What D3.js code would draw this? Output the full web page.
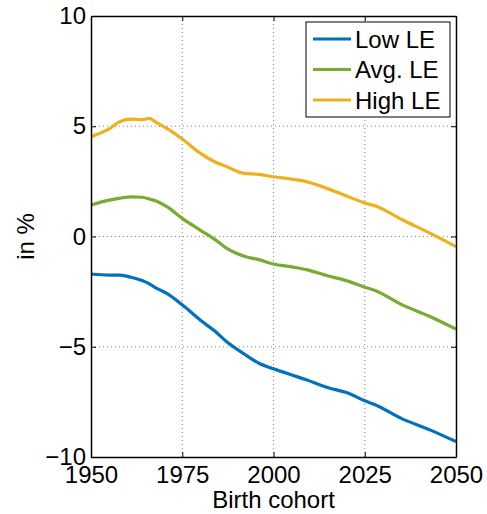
<!DOCTYPE html>
<html>
<head>
<meta charset="utf-8">
<script src="https://cdn.jsdelivr.net/npm/d3@7"></script>
<style>
  body { margin: 0; background: #fff; }
  svg text { font-family: "Liberation Sans", Arial, sans-serif; fill: #000; }
  .grid line { stroke: #888; stroke-dasharray: 1,3; }
</style>
</head>
<body>
<div id="chart"></div>
<script>
// birth cohorts and values (in %)
const years = [1950, 1955, 1958, 1961, 1964, 1966, 1968, 1971, 1975, 1980, 1984, 1987, 1992, 1996, 2000, 2005, 2009, 2015, 2020, 2025, 2028, 2035, 2043, 2050];
const lowLE  = [-1.7, -1.75, -1.75, -1.85, -2.0, -2.15, -2.35, -2.6, -3.1, -3.8, -4.3, -4.75, -5.33, -5.75, -6.0, -6.28, -6.5, -6.86, -7.08, -7.45, -7.64, -8.25, -8.78, -9.3];
const avgLE  = [1.43, 1.65, 1.74, 1.8, 1.78, 1.7, 1.6, 1.33, 0.82, 0.28, -0.14, -0.52, -0.9, -1.05, -1.25, -1.38, -1.5, -1.79, -2.0, -2.3, -2.46, -3.08, -3.64, -4.2];
const highLE = [4.53, 4.88, 5.22, 5.32, 5.3, 5.36, 5.16, 4.88, 4.42, 3.77, 3.38, 3.18, 2.86, 2.82, 2.71, 2.6, 2.49, 2.16, 1.84, 1.52, 1.38, 0.78, 0.14, -0.46];

const seriesNames = ["Low LE", "Avg. LE", "High LE"];
const seriesColors = ["#0072BD", "#77AC30", "#EDB120"];
const xTicks = [1950, 1975, 2000, 2025, 2050];
const yTicks = [-10, -5, 0, 5, 10];

const width = 487, height = 514;
const margin = {top: 16, right: 31, bottom: 57, left: 91};
const w = width - margin.left - margin.right;
const h = height - margin.top - margin.bottom;
const fontSize = "24px";

const svg = d3.select("#chart").append("svg")
    .attr("width", width)
    .attr("height", height);

const g = svg.append("g")
    .attr("transform", `translate(${margin.left},${margin.top})`);

const x = d3.scaleLinear().domain([1950, 2050]).range([0, w]);
const y = d3.scaleLinear().domain([-10, 10]).range([h, 0]);

// dotted grid
const grid = g.append("g").attr("class", "grid");
grid.selectAll(".gx")
  .data(xTicks.slice(1, -1))
  .enter().append("line")
  .attr("x1", d => x(d)).attr("x2", d => x(d))
  .attr("y1", 0).attr("y2", h);
grid.selectAll(".gy")
  .data(yTicks.slice(1, -1))
  .enter().append("line")
  .attr("x1", 0).attr("x2", w)
  .attr("y1", d => y(d)).attr("y2", d => y(d));

// lines
const series = [lowLE, avgLE, highLE];
const line = d3.line()
  .x((d, i) => x(years[i]))
  .y(d => y(d))
  .curve(d3.curveMonotoneX);

g.append("g").selectAll("path")
  .data(series)
  .enter().append("path")
  .attr("d", d => line(d))
  .attr("fill", "none")
  .attr("stroke", (d, i) => seriesColors[i])
  .attr("stroke-width", 3.2);

// axes, ticks inward on all four sides
const styleAxis = sel => {
  sel.select(".domain").attr("stroke", "#000").attr("stroke-width", 1.5);
  sel.selectAll(".tick line").attr("stroke", "#000");
  sel.selectAll(".tick text").style("font-size", fontSize);
};

g.append("g")
  .attr("transform", `translate(0,${h})`)
  .call(d3.axisBottom(x).tickValues(xTicks).tickFormat(d3.format("d")).tickSize(-5).tickSizeOuter(0).tickPadding(9))
  .call(styleAxis)
  .call(s => s.selectAll(".tick text").attr("dy", "0.71em"));

g.append("g")
  .call(d3.axisTop(x).tickValues(xTicks).tickSize(-5).tickSizeOuter(0).tickFormat(""))
  .call(styleAxis);

g.append("g")
  .call(d3.axisLeft(y).tickValues(yTicks).tickSize(-5).tickSizeOuter(0).tickPadding(5))
  .call(styleAxis);

g.append("g")
  .attr("transform", `translate(${w},0)`)
  .call(d3.axisRight(y).tickValues(yTicks).tickSize(-5).tickSizeOuter(0).tickFormat(""))
  .call(styleAxis);

// axis titles
svg.append("text")
  .attr("x", margin.left + w / 2)
  .attr("y", 508)
  .attr("text-anchor", "middle")
  .style("font-size", fontSize)
  .text("Birth cohort");

svg.append("text")
  .attr("transform", `translate(34,${margin.top + h / 2}) rotate(-90)`)
  .attr("text-anchor", "middle")
  .style("font-size", fontSize)
  .text("in %");

// legend
const legend = svg.append("g").attr("transform", "translate(306,22)");
legend.append("rect")
  .attr("width", 144).attr("height", 95)
  .attr("fill", "#fff").attr("stroke", "#000").attr("stroke-width", 1);

const item = legend.selectAll(".item")
  .data(seriesNames)
  .enter().append("g")
  .attr("transform", (d, i) => `translate(0,${17 + i * 30.5})`);

item.append("line")
  .attr("x1", 7).attr("x2", 45)
  .attr("stroke", (d, i) => seriesColors[i])
  .attr("stroke-width", 3.2);

item.append("text")
  .attr("x", 49)
  .attr("dy", "0.36em")
  .style("font-size", fontSize)
  .text(d => d);
</script>
</body>
</html>
